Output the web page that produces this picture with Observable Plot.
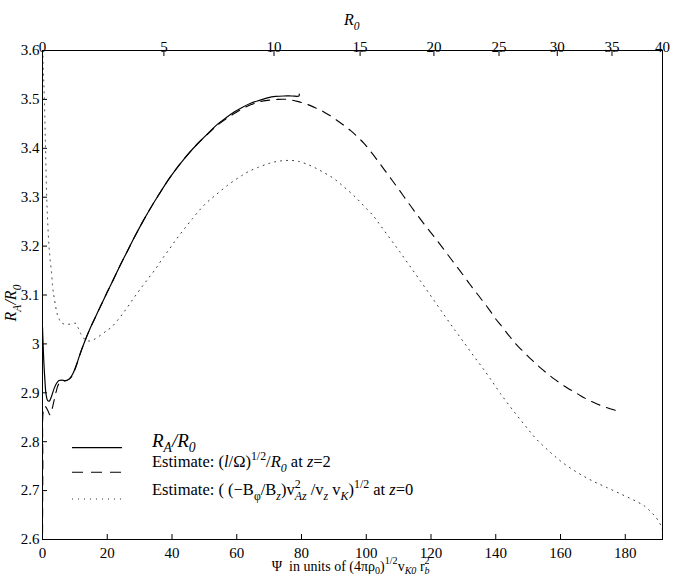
<!DOCTYPE html>
<html>
<head>
<meta charset="utf-8">
<script src="https://cdn.jsdelivr.net/npm/d3@7"></script>
<script src="https://cdn.jsdelivr.net/npm/@observablehq/plot@0.6"></script>
<style>
  html, body { margin: 0; padding: 0; background: white; }
  svg text { font-family: 'Liberation Serif', 'DejaVu Serif', 'Times New Roman', serif; }
</style>
</head>
<body>
<script>
const FONT = "'Liberation Serif', 'DejaVu Serif', 'Times New Roman', serif";

// Bottom axis ticks (Psi)
const bottomTicks = [0, 20, 40, 60, 80, 100, 120, 140, 160, 180];
// Left axis ticks
const yTicks = [2.6, 2.7, 2.8, 2.9, 3.0, 3.1, 3.2, 3.3, 3.4, 3.5, 3.6];
// Top axis: R0 labels and their Psi positions (non-linear mapping)
const topTickLabels = [0, 5, 10, 15, 20, 25, 30, 35, 40];
const topTickPsi = [0, 37.5, 71.5, 98.1, 120.9, 141.0, 159.0, 175.9, 191.5];

// Series 1: R_A/R_0 (solid)
const solidPsi = [0, 0.3, 0.7, 1.1, 1.6, 2.1, 2.8, 3.6, 4.4, 5.1, 6.0, 7.0, 8.2, 9.3, 10.5, 11.8, 13.1, 14.4, 16.0, 18.0, 20.0, 22.0, 24.0, 26.0, 28.3, 30.8, 33.4, 36.0, 38.6, 41.2, 43.7, 46.3, 48.9, 51.5, 54.0, 56.6, 59.2, 61.8, 64.3, 67.0, 69.5, 72.0, 74.6, 77.0, 79.2, 79.3];
const solidR   = [3.034, 2.98, 2.93, 2.897, 2.884, 2.883, 2.893, 2.909, 2.920, 2.925, 2.926, 2.925, 2.928, 2.938, 2.958, 2.983, 3.006, 3.027, 3.050, 3.078, 3.106, 3.133, 3.161, 3.187, 3.217, 3.248, 3.278, 3.306, 3.333, 3.357, 3.378, 3.398, 3.416, 3.433, 3.449, 3.462, 3.474, 3.484, 3.492, 3.498, 3.503, 3.506, 3.507, 3.507, 3.507, 3.511];

// Series 2: (l/Omega)^(1/2)/R_0 at z=2 (dashed)
const dashPsi = [0, 0.1, 0.3, 0.8, 1.5, 2.3, 3.0, 3.6, 4.2, 5.0, 6.0, 7.5, 9.0, 10.5, 11.8, 13.1, 14.4, 16.0, 18.0, 20.0, 22.0, 24.0, 26.0, 28.3, 30.8, 33.4, 36.0, 38.6, 41.2, 43.7, 46.3, 48.9, 51.5, 54.0, 56.6, 59.2, 61.8, 64.3, 67.0, 69.5, 72.5, 75.5, 78.7, 81.3, 83.9, 86.5, 89.0, 91.0, 93.1, 95.2, 97.2, 99.3, 101.4, 103.5, 105.5, 107.5, 109.6, 112.1, 114.7, 117.3, 119.9, 122.5, 125.0, 127.4, 129.8, 132.0, 134.3, 136.3, 138.2, 140.0, 141.5, 143.0, 144.8, 146.6, 148.4, 150.2, 152.0, 153.8, 155.8, 157.9, 160.0, 162.1, 164.2, 166.2, 168.7, 171.3, 174.2, 177.0];
const dashR   = [2.58, 2.75, 2.865, 2.872, 2.866, 2.855, 2.868, 2.885, 2.902, 2.918, 2.924, 2.925, 2.933, 2.956, 2.983, 3.006, 3.027, 3.050, 3.078, 3.106, 3.133, 3.161, 3.187, 3.217, 3.248, 3.278, 3.306, 3.333, 3.357, 3.378, 3.398, 3.416, 3.432, 3.447, 3.460, 3.471, 3.481, 3.489, 3.495, 3.498, 3.500, 3.500, 3.496, 3.491, 3.484, 3.476, 3.466, 3.457, 3.447, 3.436, 3.424, 3.410, 3.393, 3.375, 3.357, 3.339, 3.320, 3.297, 3.273, 3.250, 3.228, 3.206, 3.184, 3.163, 3.142, 3.122, 3.102, 3.085, 3.068, 3.051, 3.039, 3.026, 3.011, 2.997, 2.985, 2.973, 2.962, 2.951, 2.940, 2.929, 2.919, 2.910, 2.902, 2.894, 2.885, 2.877, 2.870, 2.864];

// Series 3: ((-B_phi/B_z) v_Az^2 / v_z v_K)^(1/2) at z=0 (dotted)
const dotPsi = [0.05, 0.2, 0.5, 0.9, 1.3, 1.6, 2.0, 2.4, 2.8, 3.1, 3.4, 3.6, 4.1, 4.6, 5.2, 5.7, 6.5, 7.7, 9.0, 10.3, 11.0, 11.8, 12.6, 13.4, 14.6, 15.9, 18.0, 20.0, 21.1, 23.4, 25.7, 28.0, 30.3, 32.7, 35.0, 37.0, 39.1, 40.9, 42.7, 44.5, 46.3, 48.3, 50.4, 52.5, 54.5, 56.9, 59.2, 61.5, 63.8, 66.6, 69.5, 72.3, 75.1, 77.2, 79.2, 81.5, 83.9, 87.0, 90.0, 93.1, 96.2, 99.3, 102.4, 104.4, 107.5, 110.4, 113.7, 116.8, 120.6, 124.5, 127.5, 130.5, 133.2, 135.8, 138.4, 141.5, 145.1, 148.7, 152.3, 156.4, 160.5, 165.2, 169.8, 174.4, 179.6, 183.7, 186.0, 187.8, 189.5, 190.9, 191.5];
const dotR   = [3.65, 3.57, 3.518, 3.41, 3.30, 3.25, 3.20, 3.17, 3.144, 3.119, 3.103, 3.095, 3.075, 3.060, 3.050, 3.044, 3.041, 3.040, 3.041, 3.042, 3.033, 3.021, 3.013, 3.007, 3.006, 3.009, 3.018, 3.028, 3.033, 3.050, 3.070, 3.092, 3.113, 3.134, 3.154, 3.174, 3.193, 3.210, 3.226, 3.241, 3.256, 3.272, 3.287, 3.299, 3.310, 3.323, 3.334, 3.344, 3.353, 3.361, 3.368, 3.373, 3.375, 3.375, 3.373, 3.368, 3.361, 3.350, 3.338, 3.321, 3.303, 3.282, 3.260, 3.242, 3.214, 3.188, 3.157, 3.128, 3.092, 3.055, 3.027, 3.000, 2.975, 2.952, 2.928, 2.898, 2.866, 2.836, 2.807, 2.781, 2.758, 2.737, 2.720, 2.706, 2.690, 2.677, 2.668, 2.657, 2.645, 2.630, 2.62];

const toRows = (xs, ys) => xs.map((x, i) => ({psi: x, r: ys[i]}));
const solid = toRows(solidPsi, solidR);
const dashed = toRows(dashPsi, dashR);
const dotted = toRows(dotPsi, dotR);

const yFmt = d => String(+d.toFixed(1));

const svg = Plot.plot({
  width: 674,
  height: 579,
  marginLeft: 42,
  marginRight: 12,
  marginTop: 50,
  marginBottom: 40,
  style: {fontFamily: FONT, fontSize: "15px", background: "white", color: "black", overflow: "visible"},
  x: {domain: [0, 191.5], label: null},
  y: {domain: [2.6, 3.6], label: null},
  marks: [
    Plot.axisX({anchor: "bottom", ticks: bottomTicks, tickSize: -5, tickPadding: 13, label: null, stroke: "black", fill: "black", fontSize: 15}),
    Plot.axisX({anchor: "top", ticks: topTickPsi, tickFormat: d => String(topTickLabels[topTickPsi.indexOf(d)]), tickSize: -5, tickPadding: 4, label: null, stroke: "black", fill: "black", fontSize: 15}),
    Plot.axisY({anchor: "left", ticks: yTicks, tickFormat: yFmt, tickSize: -5, tickPadding: 8, label: null, stroke: "black", fill: "black", fontSize: 15}),
    Plot.line(dotted, {x: "psi", y: "r", stroke: "#333", strokeWidth: 1, strokeDasharray: "1,5", curve: "catmull-rom", clip: true}),
    Plot.line(dashed, {x: "psi", y: "r", stroke: "black", strokeWidth: 1.1, strokeDasharray: "9,7", curve: "catmull-rom", clip: true}),
    Plot.line(solid, {x: "psi", y: "r", stroke: "black", strokeWidth: 1.2, curve: "catmull-rom", clip: true}),
    Plot.frame({stroke: "black", strokeWidth: 1})
  ]
});
document.body.appendChild(svg);

const root = d3.select(svg);

function rich(x, y, parts, {size = 16, anchor = "start", rotate = 0, subShift = 0.32} = {}) {
  const g = root.append("g").attr("transform", `translate(${x},${y}) rotate(${rotate})`);
  const t = g.append("text")
    .attr("font-family", FONT)
    .attr("font-size", size)
    .attr("fill", "black")
    .attr("text-anchor", anchor);
  let cur = 0;
  let lastW = 0;
  for (const p of parts) {
    const target = p.sub ? size * subShift : p.sup ? -size * 0.45 : 0;
    const s = t.append("tspan").attr("dy", target - cur).text(p.t);
    cur = target;
    if (p.sub || p.sup) s.attr("font-size", size * 0.72);
    if (p.it) s.attr("font-style", "italic");
    if (p.back) s.attr("dx", -lastW);
    lastW = s.node().getComputedTextLength();
  }
  return t;
}

// Top axis title
rich(344, 25, [{t: "R", it: true}, {t: "0", sub: true, it: true}], {size: 16});

// Bottom axis title
rich(271.7, 570.5, [
  {t: "Ψ  in units of (4πρ"}, {t: "0", sub: true}, {t: ")"}, {t: "1/2", sup: true},
  {t: "v"}, {t: "K0", sub: true, it: true}, {t: " r"}, {t: "2", sup: true}, {t: "b", sub: true, it: true, back: true}
], {size: 14, subShift: 0.28});

// Y axis title
rich(16, 303, [
  {t: "R", it: true}, {t: "A", sub: true, it: true}, {t: "/R", it: true}, {t: "0", sub: true, it: true}
], {size: 16, anchor: "middle", rotate: -90});

// Legend samples
const legend = [
  {y: 447.7, dash: null, stroke: "black", w: 1.2},
  {y: 472.3, dash: "11,8", stroke: "black", w: 1.1},
  {y: 499, dash: "1,5", stroke: "#333", w: 1}
];
for (const l of legend) {
  root.append("line").attr("x1", 72).attr("x2", 122).attr("y1", l.y).attr("y2", l.y)
    .attr("stroke", l.stroke).attr("stroke-width", l.w)
    .attr("stroke-dasharray", l.dash);
}

rich(152, 447, [
  {t: "R", it: true}, {t: "A", sub: true, it: true}, {t: "/R", it: true}, {t: "0", sub: true, it: true}
], {size: 19, subShift: 0.26});

rich(152, 467, [
  {t: "Estimate: ("}, {t: "l", it: true}, {t: "/Ω)"}, {t: "1/2", sup: true},
  {t: "/"}, {t: "R", it: true}, {t: "0", sub: true, it: true}, {t: " at "}, {t: "z", it: true}, {t: "=2"}
], {size: 16.5});

rich(152, 495, [
  {t: "Estimate: ( (−B"}, {t: "φ", sub: true}, {t: "/B"}, {t: "z", sub: true, it: true},
  {t: ")v"}, {t: "2", sup: true}, {t: "Az", sub: true, it: true, back: true},
  {t: " /v"}, {t: "z", sub: true, it: true}, {t: " v"}, {t: "K", sub: true, it: true},
  {t: ")"}, {t: "1/2", sup: true}, {t: " at "}, {t: "z", it: true}, {t: "=0"}
], {size: 16.5});
</script>
</body>
</html>
